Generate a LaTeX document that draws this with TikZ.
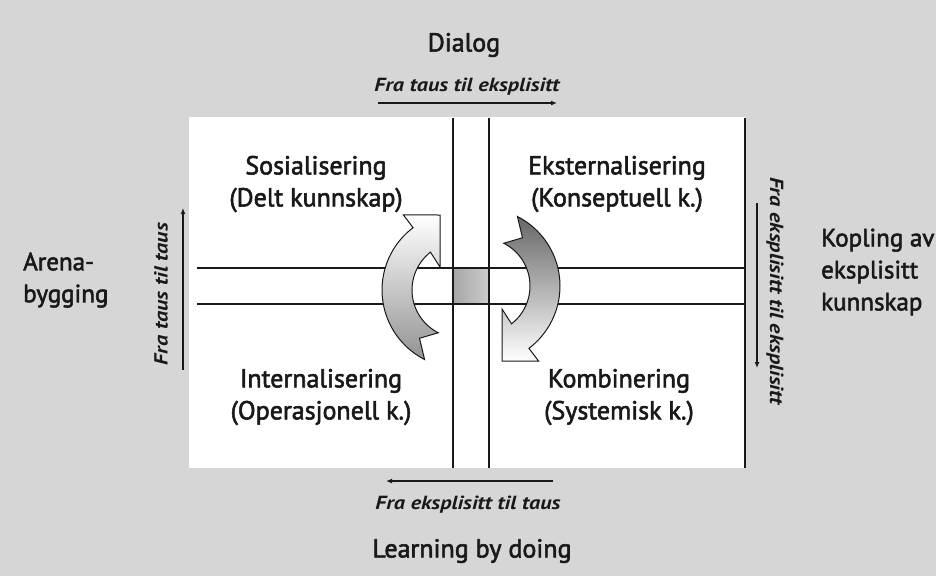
\documentclass[tikz,border=0pt]{standalone}
\usepackage{fontspec}
\setmainfont{PT Sans}
\newfontfamily\labfont{PT Sans}[FakeBold=2.2]
\newfontfamily\flowfont{PT Sans}[FakeStretch=1.17]
\usetikzlibrary{arrows.meta}
\definecolor{bg}{RGB}{214,214,214}
\definecolor{ink}{RGB}{25,25,25}
\begin{document}
\begin{tikzpicture}[x=1pt,y=-1pt,
  quad/.style={font=\labfont\fontsize{26}{32}\selectfont, align=center, text=ink, inner sep=0},
  side/.style={font=\labfont\fontsize{25}{32}\selectfont, align=left, text=ink, inner sep=0, anchor=west},
  title/.style={font=\labfont\fontsize{26}{30}\selectfont, text=ink, inner sep=0},
  flow/.style={font=\flowfont\fontsize{19}{22}\selectfont\bfseries\itshape, text=ink, inner sep=0},
  gridline/.style={draw=ink, line width=1.4pt},
  flowarrow/.style={draw=ink, line width=1.4pt, -{Latex[length=6pt,width=5pt]}},
  cyclearrow/.style={draw=ink, line width=1pt, line join=miter},
  ]
\fill[bg] (0,0) rectangle (936,576);
\useasboundingbox (0,0) rectangle (936,576);
\fill[white] (189,117) rectangle (745,468);
% centre square
\shade[left color=gray!70, right color=gray!40] (453,268) rectangle (489,304);
% grid
\draw[gridline] (453,118) -- (453,468);
\draw[gridline] (489,118) -- (489,468);
\draw[gridline] (197,268) -- (745,268);
\draw[gridline] (197,304) -- (745,304);
\draw[gridline] (745,118) -- (745,468);
% cycle arrows
\begin{scope}[shift={(460,290)}]
\shade[cyclearrow, top color=white, bottom color=gray!85]
  (-243:78) -- plot[domain=-243:-127, samples=40] (\x:78) -- (-127:94) -- (-20,-75)
  -- (-20,-23) -- (-128:48) -- plot[domain=-128:-243, samples=40] (\x:48) -- (-230:63) -- cycle;
\end{scope}
\begin{scope}[shift={(482,286)}]
\shade[cyclearrow, top color=gray!80!black, bottom color=white]
  (-63:78) -- plot[domain=-63:53, samples=40] (\x:78) -- (53:94) -- (20,75)
  -- (20,23) -- (52:48) -- plot[domain=52:-63, samples=40] (\x:48) -- (-50:63) -- cycle;
\end{scope}
% quadrant labels
\node[quad] (sos) at (316,184) {Sosialisering\\(Delt kunnskap)};
\node[quad] (eks) at (617,184) {Eksternalisering\\(Konseptuell k.)};
\node[quad] (int) at (321,397) {Internalisering\\(Operasjonell k.)};
\node[quad] (komb) at (619,397) {Kombinering\\(Systemisk k.)};
% outer labels
\node[title] (dialog) at (464,45) {Dialog};
\node[title] (learn) at (472,551) {Learning by doing};
\node[side] (arena) at (23,280) {Arena-\\bygging};
\node[side] (kopling) at (821,272) {Kopling av\\eksplisitt\\kunnskap};
% flow texts and arrows
\node[flow] (ftop) at (467,87) {Fra taus til eksplisitt};
\coordinate (ta) at (378,103); \coordinate (tb) at (557,103);
\draw[flowarrow] (ta) -- (tb);
\node[flow] (fbot) at (468,505) {Fra eksplisitt til taus};
\coordinate (ba) at (553,481); \coordinate (bb) at (386,481);
\draw[flowarrow] (ba) -- (bb);
\node[flow, rotate=90] (fleft) at (161,294) {Fra taus til taus};
\coordinate (la) at (183,370); \coordinate (lb) at (183,208);
\draw[flowarrow] (la) -- (lb);
\node[flow, rotate=-90] (fright) at (775,291) {Fra eksplisitt til eksplisitt};
\coordinate (ra) at (757,203); \coordinate (rb) at (757,368);
\draw[flowarrow] (ra) -- (rb);
\end{tikzpicture}
\end{document}
